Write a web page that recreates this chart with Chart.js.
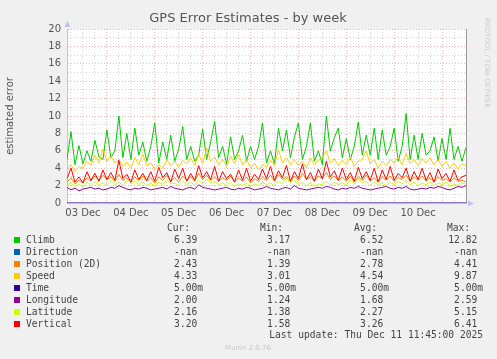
<!DOCTYPE html>
<html>
<head>
<meta charset="utf-8">
<script src="https://cdn.jsdelivr.net/npm/chart.js@4"></script>
<style>
  html, body { margin: 0; padding: 0; background: #f0f0f0; }
  #wrap { position: relative; width: 497px; height: 359px; }
</style>
</head>
<body>
<div id="wrap"><canvas id="gpsChart" width="497" height="359"></canvas></div>
<script>
// Samples every 2 hours, hours counted from 03 Dec 00:00
const startHour = 4;
const stepHours = 2;
const endHour = 204;

const dayLabels = ['03 Dec', '04 Dec', '05 Dec', '06 Dec', '07 Dec', '08 Dec', '09 Dec', '10 Dec'];

const climb = [
  5.0, 8.2, 4.4, 6.6, 4.5, 6.0, 4.8, 7.2, 5.3, 5.0,
  8.4, 5.2, 6.0, 10.0, 5.2, 8.0, 5.0, 8.6, 5.5, 7.0,
  4.8, 6.5, 9.2, 4.6, 7.0, 5.0, 7.8, 4.8, 6.2, 8.8,
  5.0, 6.5, 4.8, 5.5, 8.5, 5.0, 7.0, 9.4, 5.2, 6.5,
  4.5, 7.6, 5.0, 6.0, 7.8, 4.8, 6.5, 5.0, 6.5, 9.2,
  4.6, 6.0, 4.5, 8.6, 6.0, 8.4, 5.2, 7.6, 9.2, 5.0,
  6.5, 9.2, 4.8, 6.0, 4.4, 10.0, 6.0, 7.5, 8.6, 5.2,
  7.4, 5.0, 6.5, 9.3, 5.5, 7.8, 5.5, 8.6, 5.0, 8.4,
  5.5, 6.5, 8.6, 4.8, 6.5, 10.3, 5.0, 7.8, 5.0, 8.0,
  5.5, 6.0, 7.6, 4.8, 7.4, 5.0, 8.6, 5.0, 6.5, 4.8,
  6.39
];
const position2d = [
  2.4, 2.9, 2.2, 2.6, 2.3, 2.9, 2.5, 3.1, 2.6, 3.2,
  2.7, 3.0, 2.5, 3.3, 2.6, 2.9, 2.4, 3.0, 2.6, 3.1,
  2.5, 2.9, 2.3, 3.0, 2.6, 3.2, 2.5, 2.9, 2.4, 3.1,
  2.6, 3.0, 2.5, 3.4, 2.7, 3.2, 2.6, 3.0, 2.5, 2.9,
  2.6, 3.1, 2.4, 2.9, 2.5, 3.0, 2.3, 2.8, 2.5, 3.0,
  2.6, 3.2, 2.5, 3.3, 2.7, 3.0, 2.5, 3.1, 2.6, 3.4,
  2.7, 3.0, 2.5, 3.1, 2.8, 3.5, 2.7, 3.1, 2.6, 3.0,
  2.5, 3.1, 2.4, 3.0, 2.6, 3.2, 2.5, 2.9, 2.4, 3.0,
  2.6, 3.1, 2.5, 2.9, 2.7, 3.2, 2.5, 3.0, 2.6, 3.1,
  2.5, 2.9, 2.4, 3.0, 2.6, 2.8, 2.4, 2.9, 2.5, 2.6,
  2.43
];
const speed = [
  3.9, 4.4, 3.6, 4.2, 4.0, 4.8, 4.3, 5.5, 4.6, 6.2,
  4.8, 5.4, 4.6, 5.0, 4.2, 4.7, 4.0, 5.2, 4.4, 5.6,
  4.3, 4.6, 3.9, 4.4, 4.0, 5.0, 4.3, 4.8, 4.1, 4.9,
  4.5, 5.2, 4.3, 5.6, 4.6, 6.3, 4.8, 5.3, 4.4, 5.0,
  4.2, 5.4, 4.5, 5.6, 4.4, 5.0, 4.0, 4.6, 3.8, 4.4,
  4.1, 4.9, 4.3, 6.1, 4.6, 5.2, 4.4, 5.0, 4.3, 4.8,
  4.0, 5.2, 4.4, 4.9, 5.2, 6.0, 4.6, 5.1, 4.3, 4.9,
  4.4, 5.3, 4.2, 4.8, 5.0, 6.0, 4.5, 5.0, 4.0, 4.8,
  4.3, 5.0, 4.6, 5.3, 4.4, 5.7, 4.5, 5.0, 4.3, 5.1,
  4.6, 5.2, 4.4, 5.0, 4.2, 4.8, 4.0, 4.6, 3.9, 4.5,
  4.33
];
const timeErr = [0.005, 0.005]; // flat, first and last sample
const longitude = [
  1.8, 1.5, 1.7, 1.4, 1.6, 1.7, 1.8, 1.6, 1.7, 1.5,
  1.6, 1.8, 1.7, 2.0, 1.8, 1.6, 1.5, 1.7, 1.6, 1.8,
  1.7, 1.5, 1.6, 1.7, 1.8, 1.6, 1.9, 1.7, 1.6, 1.5,
  1.7, 1.8, 1.6, 2.1, 1.8, 1.7, 1.6, 1.5, 1.6, 1.7,
  1.8, 1.6, 1.5, 1.7, 1.6, 1.8, 1.7, 1.5, 1.6, 1.7,
  1.9, 1.7, 1.6, 1.5, 1.7, 1.8, 1.6, 2.0, 1.7, 1.6,
  1.5, 1.6, 1.7, 1.8, 1.7, 1.9, 1.8, 1.6, 1.5, 1.7,
  1.6, 1.8, 1.7, 1.9, 1.7, 1.6, 1.5, 1.6, 1.7, 1.8,
  1.9, 1.7, 1.6, 1.8, 1.7, 1.9, 1.6, 1.5, 1.6, 1.7,
  1.6, 1.8, 1.7, 1.9, 1.8, 1.6, 1.5, 1.7, 1.9, 1.8,
  2.0
];
const latitude = [
  2.0, 2.3, 1.9, 2.2, 1.8, 2.4, 2.0, 2.5, 2.1, 2.3,
  2.0, 2.6, 2.1, 2.4, 2.0, 2.7, 2.2, 2.5, 2.1, 2.4,
  2.0, 2.3, 1.9, 2.4, 2.1, 2.6, 2.2, 2.3, 2.0, 2.5,
  2.1, 2.4, 2.0, 2.6, 2.2, 2.8, 2.3, 2.5, 2.1, 2.3,
  2.0, 2.4, 1.9, 2.2, 2.0, 2.3, 1.9, 2.2, 2.0, 2.4,
  2.1, 2.3, 2.0, 2.5, 2.2, 2.9, 2.3, 2.6, 2.1, 2.4,
  2.0, 2.3, 1.9, 2.2, 2.1, 2.5, 2.0, 2.4, 2.1, 2.3,
  2.1, 2.6, 2.2, 2.8, 2.3, 2.5, 2.0, 2.4, 2.1, 2.3,
  2.0, 2.4, 2.1, 2.5, 2.2, 2.6, 2.1, 2.4, 2.0, 2.3,
  2.1, 2.5, 2.0, 2.3, 2.1, 2.4, 1.9, 2.2, 2.0, 2.3,
  2.16
];
const vertical = [
  2.8, 4.0, 2.4, 3.0, 2.3, 3.6, 2.6, 3.4, 2.5, 3.8,
  2.7, 3.5, 2.6, 4.9, 2.8, 3.3, 2.4, 3.8, 2.7, 3.4,
  2.6, 3.6, 2.5, 4.1, 2.9, 3.5, 2.4, 3.9, 2.8, 4.0,
  2.5, 3.4, 2.6, 4.3, 2.9, 3.6, 2.7, 4.2, 2.5, 3.6,
  2.8, 3.3, 2.4, 3.8, 2.6, 4.0, 2.5, 3.3, 2.7, 3.9,
  2.8, 4.2, 2.6, 3.7, 2.9, 4.3, 2.5, 3.6, 2.8, 4.5,
  2.7, 3.5, 2.5, 3.9, 2.8, 4.8, 3.0, 3.7, 2.6, 4.0,
  2.7, 3.5, 2.5, 4.1, 2.8, 3.6, 2.6, 4.0, 2.4, 3.8,
  2.7, 4.2, 2.6, 3.4, 2.9, 4.0, 2.5, 3.6, 2.7, 4.0,
  2.6, 3.5, 2.4, 3.9, 2.8, 3.4, 2.5, 3.8, 2.6, 3.0,
  3.20
];

// Legend table
const seriesNames = ['Climb', 'Direction', 'Position (2D)', 'Speed', 'Time', 'Longitude', 'Latitude', 'Vertical'];
const seriesColors = ['#00cc00', '#0066b3', '#ff8000', '#ffcc00', '#330099', '#990099', '#ccff00', '#ff0000'];
const curValues = ['6.39 ', '-nan ', '2.43 ', '4.33 ', '5.00m', '2.00 ', '2.16 ', '3.20 '];
const minValues = ['3.17 ', '-nan ', '1.39 ', '3.01 ', '5.00m', '1.24 ', '1.38 ', '1.58 '];
const avgValues = ['6.52 ', '-nan ', '2.78 ', '4.54 ', '5.00m', '1.68 ', '2.27 ', '3.26 '];
const maxValues = ['12.82 ', '-nan ', '4.41 ', '9.87 ', '5.00m', '2.59 ', '5.15 ', '6.41 '];

function toPoints(values) {
    return values.map((v, i) => ({ x: startHour + i * stepHours, y: v }));
}

const seriesData = [
    toPoints(climb),
    [],
    toPoints(position2d),
    toPoints(speed),
    [{ x: startHour, y: timeErr[0] }, { x: endHour, y: timeErr[1] }],
    toPoints(longitude),
    toPoints(latitude),
    toPoints(vertical)
];

const MAJOR = 'rgba(240, 150, 150, 0.7)';
const MINOR = 'rgba(200, 200, 200, 0.75)';

// Title, axis label, arrows, legend table etc.
const rrdDecor = {
    id: 'rrdDecor',
    beforeDraw(chart) {
        const { ctx, chartArea: a } = chart;
        ctx.save();
        ctx.fillStyle = '#f0f0f0';
        ctx.fillRect(0, 0, chart.width, chart.height);
        ctx.fillStyle = '#ffffff';
        ctx.fillRect(a.left, a.top, a.right - a.left, a.bottom - a.top);
        ctx.restore();
    },
    afterDraw(chart) {
        const { ctx, chartArea: a } = chart;
        ctx.save();

        // right frame line
        ctx.strokeStyle = '#999999';
        ctx.lineWidth = 1;
        ctx.beginPath();
        ctx.moveTo(a.right + 0.5, a.top);
        ctx.lineTo(a.right + 0.5, a.bottom);
        ctx.stroke();

        // axis arrows
        ctx.fillStyle = '#c0c0f0';
        ctx.beginPath();
        ctx.moveTo(a.left + 0.5, a.top - 8);
        ctx.lineTo(a.left - 2.5, a.top - 2);
        ctx.lineTo(a.left + 3.5, a.top - 2);
        ctx.closePath();
        ctx.fill();
        ctx.beginPath();
        ctx.moveTo(a.right + 8, a.bottom + 0.5);
        ctx.lineTo(a.right + 2, a.bottom - 2.5);
        ctx.lineTo(a.right + 2, a.bottom + 3.5);
        ctx.closePath();
        ctx.fill();

        // title
        ctx.fillStyle = '#555555';
        ctx.font = '13px "DejaVu Sans"';
        ctx.textAlign = 'center';
        ctx.textBaseline = 'middle';
        ctx.fillText('GPS Error Estimates - by week', 248, 19);

        // y axis label
        ctx.save();
        ctx.translate(10, (a.top + a.bottom) / 2);
        ctx.rotate(-Math.PI / 2);
        ctx.font = '10px "DejaVu Sans"';
        ctx.fillStyle = '#555555';
        ctx.fillText('estimated error', 0, 0);
        ctx.restore();

        // watermark
        ctx.save();
        ctx.translate(487, 18);
        ctx.rotate(Math.PI / 2);
        ctx.font = '7px "DejaVu Sans"';
        ctx.fillStyle = '#cccccc';
        ctx.textAlign = 'left';
        ctx.fillText('RRDTOOL / TOBI OETIKER', 0, 0);
        ctx.restore();

        // legend table
        ctx.font = '9.6px "DejaVu Sans Mono"';
        ctx.fillStyle = '#444444';
        ctx.textAlign = 'right';
        ctx.fillText('Cur:', 190, 228);
        ctx.fillText('Min:', 283, 228);
        ctx.fillText('Avg:', 377, 228);
        ctx.fillText('Max:', 470, 228);
        seriesNames.forEach((name, i) => {
            const y = 240 + i * 12;
            ctx.fillStyle = seriesColors[i];
            ctx.fillRect(14, y - 3, 6, 6);
            ctx.fillStyle = '#444444';
            ctx.textAlign = 'left';
            ctx.fillText(name, 26, y);
            ctx.textAlign = 'right';
            ctx.fillText(curValues[i], 203, y);
            ctx.fillText(minValues[i], 296, y);
            ctx.fillText(avgValues[i], 389, y);
            ctx.fillText(maxValues[i], 483, y);
        });
        ctx.fillText('Last update: Thu Dec 11 11:45:00 2025', 483, 335);

        ctx.textAlign = 'center';
        ctx.font = '7px "DejaVu Sans"';
        ctx.fillStyle = '#c8c8c8';
        ctx.fillText('Munin 2.0.76', 248, 348);
        ctx.restore();
    }
};

const ctx = document.getElementById('gpsChart').getContext('2d');

new Chart(ctx, {
    type: 'line',
    data: {
        datasets: seriesNames.map((name, i) => ({
            label: name,
            data: seriesData[i],
            borderColor: seriesColors[i],
            backgroundColor: seriesColors[i],
            borderWidth: 1,
            pointRadius: 0,
            tension: 0,
            fill: false,
            order: seriesNames.length - i
        }))
    },
    options: {
        responsive: false,
        animation: false,
        parsing: false,
        normalized: true,
        layout: { padding: { left: 0, top: 29, right: 31, bottom: 136 } },
        plugins: {
            legend: { display: false },
            tooltip: { enabled: false },
            title: { display: false }
        },
        scales: {
            x: {
                type: 'linear',
                min: startHour,
                max: endHour,
                afterFit: (axis) => { axis.height = 20; },
                afterBuildTicks: (axis) => {
                    const ticks = [];
                    for (let h = 6; h < endHour; h += 6) ticks.push({ value: h });
                    axis.ticks = ticks;
                },
                grid: {
                    drawTicks: false,
                    color: (c) => (c.tick && c.tick.value % 24 === 0 ? MAJOR : MINOR)
                },
                border: { display: true, color: '#b8b8e8', dash: [1, 2] },
                ticks: {
                    autoSkip: false,
                    maxRotation: 0,
                    padding: 4,
                    color: '#555555',
                    font: { family: 'DejaVu Sans', size: 10 },
                    callback: (v) => (v % 24 === 12 ? dayLabels[(v - 12) / 24] || '' : '')
                }
            },
            y: {
                min: 0,
                max: 20,
                afterFit: (axis) => { axis.width = 67; },
                grid: {
                    drawTicks: false,
                    color: (c) => (c.tick && c.tick.value % 2 === 0 ? MAJOR : MINOR)
                },
                border: { display: true, color: '#c0c0f0', dash: [1, 2] },
                ticks: {
                    stepSize: 1,
                    autoSkip: false,
                    padding: 6,
                    color: '#555555',
                    font: { family: 'DejaVu Sans', size: 10 },
                    callback: (v) => (v % 2 === 0 ? v : '')
                }
            }
        }
    },
    plugins: [rrdDecor]
});
</script>
</body>
</html>
